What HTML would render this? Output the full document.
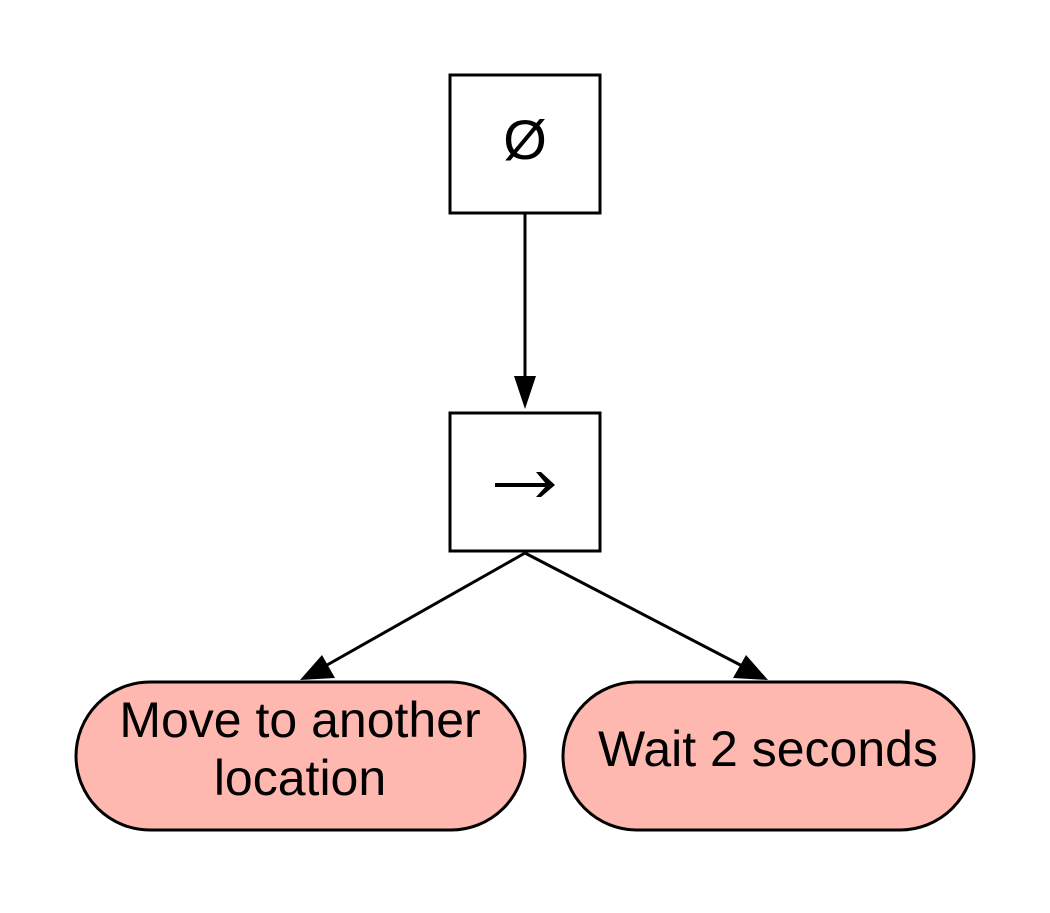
<!DOCTYPE html>
<html><head><style>body{margin:0;background:#fff}</style></head><body>
<svg width="1050" height="908" xmlns="http://www.w3.org/2000/svg" font-family="Liberation Sans, sans-serif">
<rect x="450" y="75" width="150" height="138" fill="#fff" stroke="#000" stroke-width="3"/>
<text x="525" y="159" font-size="56" text-anchor="middle">Ø</text>
<rect x="450" y="413" width="150" height="138" fill="#fff" stroke="#000" stroke-width="3"/>
<line x1="495" y1="485" x2="552" y2="485" stroke="#000" stroke-width="4"/>
<path d="M536,472 L541,472 L555,485 L541,497 L536,497 L547,485 z" fill="#000"/>
<line x1="525" y1="214" x2="525" y2="380" stroke="#000" stroke-width="3"/>
<path d="M514,376 L536,376 L525,409 z" fill="#000"/>
<line x1="525" y1="553" x2="320" y2="669" stroke="#000" stroke-width="3"/>
<path d="M300,680 L322,655 L335,678 z" fill="#000"/>
<line x1="525" y1="553" x2="748" y2="669" stroke="#000" stroke-width="3"/>
<path d="M768,680 L733,678 L746,655 z" fill="#000"/>
<rect x="76" y="682" width="449" height="148" rx="74" fill="#ffb8b0" stroke="#000" stroke-width="3"/>
<text x="300" y="737" font-size="50" text-anchor="middle">Move to another</text>
<text x="300" y="795" font-size="50" text-anchor="middle">location</text>
<rect x="563" y="682" width="411" height="148" rx="74" fill="#ffb8b0" stroke="#000" stroke-width="3"/>
<text x="768" y="766" font-size="50" text-anchor="middle">Wait 2 seconds</text>
</svg>
</body></html>
